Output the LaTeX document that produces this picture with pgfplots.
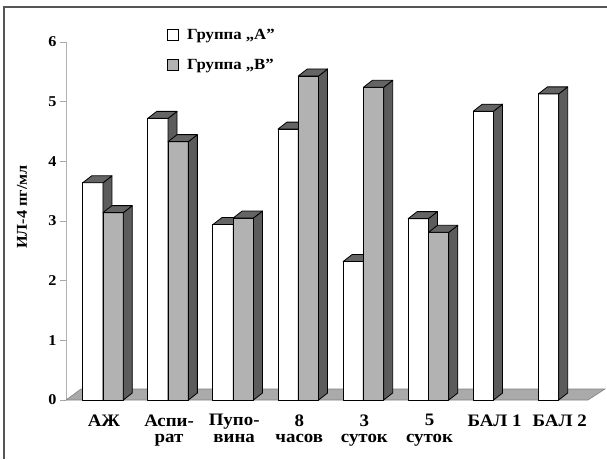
\documentclass[border=0pt]{standalone}
\usepackage{fontspec}
\setmainfont{Liberation Serif}[FakeStretch=1.08]
\usepackage{pgfplots}
\pgfplotsset{compat=1.18}
\pgfdeclareplotmark{nothing}{}
\definecolor{barB}{RGB}{178,178,178}
\definecolor{sideC}{RGB}{92,92,92}
\definecolor{topC}{RGB}{100,100,100}
\definecolor{floorC}{RGB}{170,170,170}
\definecolor{frameC}{RGB}{85,85,85}
\pgfplotsset{
  bar3d/.style n args={2}{%
    forget plot, only marks, scatter, mark=nothing,
    visualization depends on={rawy \as \rawy},
    scatter/@pre marker code/.code={%
      \pgfmathsetmacro\hh{\rawy*59.67}%
      \filldraw[fill=#1, draw=black, line width=0.8pt, line join=round] (#2pt,-\hh pt) rectangle (#2pt+20.3pt,0pt);
      \filldraw[fill=sideC, draw=black, line width=0.8pt, line join=round] (#2pt+20.3pt,0pt) -- ++(9pt,7pt) -- ++(0pt,-\hh pt) -- (#2pt+20.3pt,-\hh pt) -- cycle;
      \filldraw[fill=topC, draw=black, line width=0.8pt, line join=round] (#2pt,0pt) -- ++(9pt,7pt) -- ++(20.3pt,0pt) -- (#2pt+20.3pt,0pt) -- cycle;
    },
    scatter/@post marker code/.code={},
  }
}
\begin{document}
\begin{tikzpicture}
\useasboundingbox (0pt,0pt) rectangle (607pt,459pt);
\draw[frameC, line width=2pt] (4pt,0pt) -- (4pt,452pt) -- (607pt,452pt);
\begin{axis}[
  at={(66pt,59pt)}, anchor=south west,
  x=65.1pt, y=59.67pt,
  xmin=-0.568, xmax=7.45, ymin=0, ymax=6,
  clip=false,
  axis x line*=bottom, axis y line*=left,
  x axis line style={draw=none},
  y axis line style={draw=gray!60, line width=0.8pt},
  xtick={0,...,7},
  xticklabels={{АЖ},{Аспи-\\рат},{Пупо-\\вина},{8\\часов},{3\\суток},{5\\суток},{БАЛ 1},{БАЛ 2}},
  xticklabel style={align=center, font=\fontsize{17.5}{16.5}\selectfont\bfseries, yshift=-5pt, xshift=1pt},
  x tick style={draw=none},
  ytick={0,...,6},
  y tick style={draw=gray!70, line width=0.8pt},
  major tick length=6pt,
  tick align=outside,
  /pgf/number format/assume math mode=true,
  yticklabel style={font=\fontsize{15}{15}\selectfont\bfseries, xshift=0pt},
  legend style={at={(0.1935,1.042)}, anchor=north west, draw=none, fill=none,
    font=\fontsize{15.5}{15.5}\selectfont\bfseries, row sep=14pt, inner sep=0pt,
    nodes={inner xsep=8pt}},
  legend cell align=left,
]
\fill[floorC, draw=gray, line width=0.6pt] (axis cs:-0.568,0) -- (axis cs:7.45,0) -- ([shift={(17pt,11pt)}]axis cs:7.45,0) -- ([shift={(15pt,11pt)}]axis cs:-0.568,0) -- cycle;
\addplot[bar3d={white}{-20.3}] coordinates {(0,3.64) (1,4.72) (2,2.94) (3,4.54) (4,2.32) (5,3.04) (6,4.84) (7,5.13)};
\addplot[bar3d={barB}{0}] coordinates {(0,3.14) (1,4.33) (2,3.05) (3,5.43) (4,5.24) (5,2.81)};
\addlegendimage{legend image code/.code={\draw[fill=white,line width=0.8pt] (0pt,-5.5pt) rectangle (11pt,5.5pt);}}
\addlegendentry{Группа „А”}
\addlegendimage{legend image code/.code={\draw[fill=barB,line width=0.8pt] (0pt,-5.5pt) rectangle (11pt,5.5pt);}}
\addlegendentry{Группа „В”}
\end{axis}
\node[rotate=90, font=\fontsize{15}{15}\selectfont\bfseries] at (22pt,252pt) {ИЛ-4 пг/мл};
\end{tikzpicture}
\end{document}
